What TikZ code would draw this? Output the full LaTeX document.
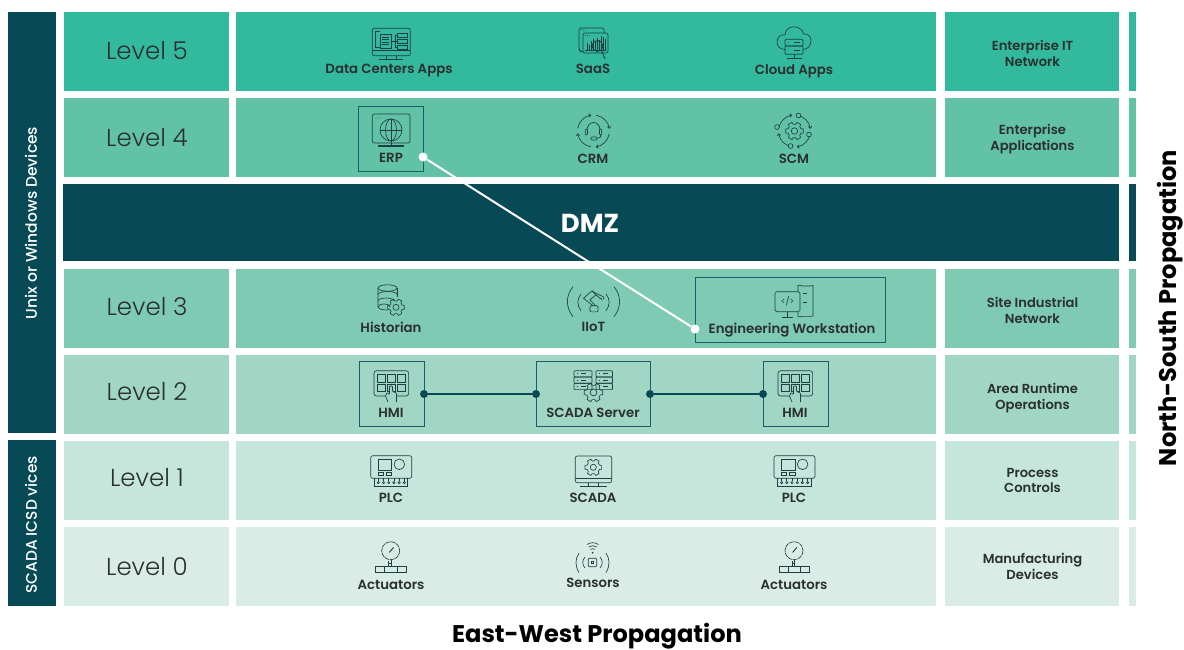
\documentclass[tikz,border=0pt]{standalone}
\usepackage{fontspec}
\setmainfont{Poppins}
\newfontfamily\semib{Poppins SemiBold}
\newfontfamily\medf{Poppins Medium}
\newfontfamily\lightf{Poppins Light}
\usetikzlibrary{arrows.meta}
\definecolor{cfive}{HTML}{33B99D}
\definecolor{cfour}{HTML}{62C2A6}
\definecolor{cthree}{HTML}{7FCAB3}
\definecolor{ctwo}{HTML}{A1D6C4}
\definecolor{cone}{HTML}{C6E6DB}
\definecolor{czero}{HTML}{D9ECE5}
\definecolor{cdark}{HTML}{074954}
\definecolor{ctxt}{HTML}{2A2F30}
\definecolor{cicon}{HTML}{1E3F44}
\definecolor{cbox}{HTML}{1B5E6A}
\tikzset{
  bandbox/.style={inner sep=0pt,outer sep=0pt,anchor=north west},
  lvl/.style={text=ctxt,anchor=base,inner sep=0pt,font=\lightf\fontsize{24.5}{26}\selectfont},
  lab/.style={text=ctxt,anchor=base,inner sep=0pt,font=\semib\fontsize{13.3}{15}\selectfont},
  side/.style={text=ctxt,align=center,inner sep=0pt,font=\semib\fontsize{13.1}{15.4}\selectfont},
  framebox/.style={draw=cbox,line width=1pt,inner sep=0pt,outer sep=0pt,anchor=north west},
  wdot/.style={circle,fill=white,inner sep=0pt,minimum size=9pt},
  ddot/.style={circle,fill=cdark,inner sep=0pt,minimum size=8pt},
  ic/.style={draw=cicon,line width=.65pt},
  icf/.style={draw=cicon,line width=.65pt,rounded corners=1pt},
}
\newcommand{\bandrect}[6]{\node[bandbox,fill=#6,minimum width={(#4-#2)*1pt},minimum height={(#5-#3)*1pt}] (#1) at (#2,#3) {};}
\newcommand{\framerect}[5]{\node[framebox,minimum width={(#4-#2)*1pt},minimum height={(#5-#3)*1pt}] (#1) at (#2,#3) {};}
\newcommand{\gearic}[3]{%
  \begin{scope}[shift={(#1,#2)}]
  \foreach \a in {0,60,...,300}{\draw[ic,line join=round] ({\a-13}:{#3}) -- ({\a+13}:{#3}) -- ({\a+20}:{0.76*#3}) -- ({\a+40}:{0.76*#3}) -- ({\a+47}:{#3});}
  \draw[ic] (0,0) circle ({0.36*#3});
  \end{scope}}
\newcommand{\ringic}[3]{%
  \begin{scope}[shift={(#1,#2)}]
  \foreach \a in {10,100,190,280}{\draw[ic,-{Straight Barb[length=2pt,width=3.5pt]}] ({\a}:{#3}) arc ({\a}:{\a+72}:{#3});}
  \end{scope}}
\newcommand{\plcic}[1]{%
  \begin{scope}[shift={(#1,0)}]
  \draw[icf,rounded corners=2pt] (370.7,455.7) rectangle (411.7,478.3);
  \draw[ic] (378,459) rectangle (391.7,470);
  \draw[ic] (399.3,464.3) circle (5.3);
  \draw[ic] (378,472.3) rectangle (383.3,475.3);
  \draw[ic] (386,472.3) rectangle (391.7,475.3);
  \draw[ic] (374,478.3) -- (374,486.7) -- (407.7,486.7) -- (407.7,478.3);
  \foreach \k in {0,...,5}{\draw[ic] ({378.3+5.2*\k},478.3) -- ({378.3+5.2*\k},481); \draw[ic] ({378.3+5.2*\k},482.6) circle (1.1);}
  \end{scope}}
\newcommand{\gaugeic}[1]{%
  \begin{scope}[shift={(#1,0)}]
  \draw[ic,dash pattern=on 4.6pt off .7pt] (390.7,550.7) circle (9);
  \draw[ic,line width=.9pt] (389.3,552.4) -- (393.6,547.4);
  \draw[ic,line width=1pt] (391.3,559.7) -- (391.3,566.7);
  \draw[ic,line width=1pt] (388.7,561) -- (388.7,566) (388.7,563.4) -- (391.3,563.4);
  \draw[ic] (375.7,566.7) rectangle (406,572.7);
  \draw[ic] (384.7,566.7) -- (384.7,572.7) (397.3,566.7) -- (397.3,572.7);
  \end{scope}}
\newcommand{\hmiic}[1]{%
  \begin{scope}[shift={(#1,0)}]
  \draw[icf,rounded corners=2.5pt] (386,396) -- (374,396) -- (374,370.7) -- (408.6,370.7) -- (408.6,396) -- (397,396);
  \foreach \xa in {377,387,397.5}{\draw[ic] (\xa,374.7) rectangle ++(8.3,7.3); \draw[ic] (\xa,384.3) rectangle ++(8.3,7.4);}
  \draw[ic,fill=ctwo,rounded corners=.8pt] (388,402) -- (385.5,396) -- (387,392.5) -- (389.5,394.5) -- (389.5,386) -- (392.5,386) -- (392.5,391.5) -- (396.5,393) -- (396.5,402);
  \end{scope}}
\newcommand{\stackic}[2]{%
  \foreach \yb in {370.7,377,383.3}{\draw[icf,rounded corners=.8pt] (#1,\yb) rectangle (#2,\yb+6.3); \draw[ic] ({#1+2.5},\yb+3.1) -- ({#1+3.5},\yb+3.1) ({#1+7},\yb+3.1) -- ({#1+12},\yb+3.1);}}
\begin{document}
\begin{tikzpicture}[x=1pt,y=-1pt]
\useasboundingbox (0,0) rectangle (1184,649);
\fill[white] (0,0) rectangle (1184,649);
% left bars
\bandrect{barA}{8}{12}{56}{433}{cdark}
\bandrect{barB}{8}{440}{56}{606}{cdark}
% bands
\bandrect{lFive}{64}{12}{229}{91}{cfive}
\bandrect{mFive}{236}{12}{936}{91}{cfive}
\bandrect{rFive}{945}{12}{1119}{91}{cfive}
\bandrect{sFive}{1129}{12}{1136}{91}{cfive}
\bandrect{lFour}{64}{98}{229}{177}{cfour}
\bandrect{mFour}{236}{98}{936}{177}{cfour}
\bandrect{rFour}{945}{98}{1119}{177}{cfour}
\bandrect{sFour}{1129}{98}{1136}{177}{cfour}
\bandrect{dmzBand}{63}{184}{1119}{261}{cdark}
\bandrect{sDmz}{1129}{184}{1136}{261}{cdark}
\bandrect{lThree}{64}{269}{229}{348}{cthree}
\bandrect{mThree}{236}{269}{936}{348}{cthree}
\bandrect{rThree}{945}{269}{1119}{348}{cthree}
\bandrect{sThree}{1129}{269}{1136}{348}{cthree}
\bandrect{lTwo}{64}{355}{229}{434}{ctwo}
\bandrect{mTwo}{236}{355}{936}{434}{ctwo}
\bandrect{rTwo}{945}{355}{1119}{434}{ctwo}
\bandrect{sTwo}{1129}{355}{1136}{434}{ctwo}
\bandrect{lOne}{64}{441}{229}{520}{cone}
\bandrect{mOne}{236}{441}{936}{520}{cone}
\bandrect{rOne}{945}{441}{1119}{520}{cone}
\bandrect{sOne}{1129}{441}{1136}{520}{cone}
\bandrect{lZero}{64}{527}{229}{606}{czero}
\bandrect{mZero}{236}{527}{936}{606}{czero}
\bandrect{rZero}{945}{527}{1119}{606}{czero}
\bandrect{sZero}{1129}{527}{1136}{606}{czero}
% frames
\framerect{erpBox}{358.5}{106}{423}{171}
\framerect{ewBox}{695}{277.5}{885}{342}
\framerect{hmiA}{359.5}{361.5}{424}{426}
\framerect{scBox}{536}{361.5}{650}{426}
\framerect{hmiB}{763}{361.5}{828}{426}
% level text
\node[lvl] (tFive) at (147,59) {Level 5};
\node[lvl] (tFour) at (147,146.5) {Level 4};
\node[lvl] (tThree) at (147,315.5) {Level 3};
\node[lvl] (tTwo) at (147,400.5) {Level 2};
\node[lvl] (tOne) at (147,486.5) {Level 1};
\node[lvl] (tZero) at (147,575) {Level 0};
% labels
\node[lab] (a1) at (389,73.5) {Data Centers Apps};
\node[lab] (a2) at (593,73.5) {SaaS};
\node[lab] (a3) at (794,74.5) {Cloud Apps};
\node[lab] (b1) at (391,162) {ERP};
\node[lab] (b2) at (593,163) {CRM};
\node[lab] (b3) at (794,163) {SCM};
\node[lab] (c1) at (391,332.5) {Historian};
\node[lab] (c2) at (593.5,331.5) {IIoT};
\node[lab] (c3) at (792,333) {Engineering Workstation};
\node[lab] (d1) at (391,417) {HMI};
\node[lab] (d2) at (593,417) {SCADA Server};
\node[lab] (d3) at (795,417) {HMI};
\node[lab] (e1) at (391,502) {PLC};
\node[lab] (e2) at (593,502) {SCADA};
\node[lab] (e3) at (794,502) {PLC};
\node[lab] (f1) at (391,589) {Actuators};
\node[lab] (f2) at (593,587) {Sensors};
\node[lab] (f3) at (794,589) {Actuators};
% side labels
\node[side] (s5) at (1032.5,53.5) {Enterprise IT\\Network};
\node[side] (s4) at (1032.5,139) {Enterprise\\Applications};
\node[side] (s3) at (1032.5,310.5) {Site Industrial\\Network};
\node[side] (s2) at (1032.5,398) {Area Runtime\\Operations};
\node[side] (s1) at (1032.5,480.5) {Process\\Controls};
\node[side] (s0) at (1032.5,566.5) {Manufacturing\\Devices};
% headings
\node[text=white,inner sep=0pt,font=\bfseries\fontsize{26}{28}\selectfont] (dmzT) at (590,223) {DMZ};
\node[text=white,inner sep=0pt,rotate=90,font=\medf\fontsize{15.5}{17}\selectfont] (unixT) at (31,223) {Unix or Windows Devices};
\node[text=white,inner sep=0pt,rotate=90,font=\medf\fontsize{15.4}{17}\selectfont] (scadaT) at (31,525) {SCADA ICSD vices};
\node[text=black,inner sep=0pt,rotate=90,font=\bfseries\fontsize{24.1}{26}\selectfont] (nsT) at (1170,308) {North-South Propagation};
\node[text=black,inner sep=0pt,font=\bfseries\fontsize{24.1}{26}\selectfont] (ewT) at (597,636.5) {East-West Propagation};
% Data centers icon
\draw[icf,rounded corners=2pt] (372.3,28.3) rectangle (410.3,55.7);
\draw[ic] (372.3,50.7) -- (410.3,50.7);
\draw[ic] (386,55.7) -- (386,59.5) (396,55.7) -- (396,59.5);
\draw[ic,line width=.9pt] (379,59.7) -- (403,59.7);
\draw[ic] (380,31) -- (375,31) -- (375,47) -- (380,47);
\draw[ic] (380,34) rectangle (391,48);
\draw[ic] (382,37) -- (389,37) (382,39.5) -- (389,39.5) (382,42) -- (389,42) (382,44.5) -- (389,44.5);
\draw[ic] (397,33) rectangle (407,37) (397,39) rectangle (407,43) (397,45) rectangle (407,49);
\draw[ic] (391,41) -- (397,41) (395,35) -- (395,47) (395,35) -- (397,35) (395,47) -- (397,47);
% SaaS icon
\draw[icf,rounded corners=2pt] (583,52) -- (581,52) -- (579,50) -- (579,28) -- (604,28) -- (604,33);
\draw[icf,rounded corners=2pt] (583,33) rectangle (608,53);
\foreach \q in {581.5,583.5,585.5}{\fill[cicon] (\q,30) circle (.45);}
\foreach \q in {585.5,587.5,589.5}{\fill[cicon] (\q,35.5) circle (.45);}
\foreach \q/\h in {587/43,589/45,591/41,593/39,595/42,597/38,599/40,601/36,603/37,605/39}{\draw[ic] (\q,50) -- (\q,\h);}
\draw[ic] (585,50) -- (606,50);
\draw[ic,line width=.9pt] (597.5,46) circle (5.5);
\draw[ic,line width=.9pt] (601.5,50.5) -- (605,59);
% Cloud icon
\draw[icf,rounded corners=0pt] (785,49.5) .. controls (779,49.5) and (777,45) .. (777,42) .. controls (777,37) and (781,34) .. (785,35) .. controls (785,29) and (790,26.8) .. (794,26.8) .. controls (799,26.8) and (803,30) .. (803.5,34) .. controls (808,33) and (811,37) .. (811,41) .. controls (811,45) and (808,49.5) .. (803,49.5);
\draw[icf] (785,39.3) rectangle (803,46);
\draw[icf] (785,46) rectangle (803,54.3);
\fill[cicon] (788,42.6) circle (.5) (788,50) circle (.5);
\draw[ic] (794,42.6) -- (800,42.6) (794,50) -- (800,50);
\draw[ic] (794,54.3) -- (794,58.3) (787,58.3) -- (802,58.3);
% ERP icon
\draw[icf,rounded corners=2pt] (372.3,114) rectangle (410,143);
\foreach \q in {376,378.5,381}{\fill[cicon!70] (\q,118) circle (.6);}
\draw[ic] (391,130) circle (11);
\draw[ic] (391,130) ellipse (5.5 and 11);
\draw[ic] (380,130) -- (402,130) (391,119) -- (391,146);
\draw[ic,line width=1.1pt] (378,146) -- (404,146);
% CRM icon
\ringic{593.5}{131}{16}
\draw[ic] (587,130) arc (180:360:6.5 and 7.5);
\draw[icf] (585.2,129) rectangle (587.5,135);
\draw[icf] (599.5,129) rectangle (601.8,135);
\draw[ic] (600.5,135) -- (600.5,137) -- (597,138.5);
\draw[icf] (591,137) rectangle (597,140);
% SCM icon
\ringic{794.5}{131}{16}
\gearic{794.5}{131}{9}
\foreach \px/\py in {798.5/115.5,777/127,809/134.5,790.5/146}{\draw[ic,fill=cfour] (\px,\py) circle (2.4);}
% Historian icon
\draw[ic] (387.5,288) ellipse (9.5 and 3.2);
\draw[ic] (378,288) -- (378,307) arc (180:90:9.5 and 3);
\draw[ic] (397,288) -- (397,297);
\draw[ic] (378,294.5) arc (180:360:9.5 and 3);
\draw[ic] (378,301) arc (180:360:8 and 3);
\draw[ic] (378,307) arc (180:360:6 and 3);
\gearic{396}{307.3}{8.5}
% IIoT icon
\draw[ic] (573,286.7) .. controls (565.5,296) and (565.5,307) .. (573,316.7);
\draw[ic] (614,286.7) .. controls (621.5,296) and (621.5,307) .. (614,316.7);
\draw[ic] (581,294) .. controls (576.8,299) and (576.8,305) .. (581,310.7);
\draw[ic] (606,294) .. controls (610.2,299) and (610.2,305) .. (606,310.7);
\begin{scope}[shift={(0,-2.7)}]
\draw[icf] (590,314.6) -- (598,314.6) -- (598,308.5) -- (590,308.5) -- cycle;
\draw[ic] (593,308.5) -- (583.5,301) -- (592,293.5) -- (596,297.5) -- (590,302.5) -- (595.5,308.5);
\draw[ic] (592,293.5) -- (594,295) -- (600,298) (596,297.5) -- (600,301);
\draw[ic] (600,298) .. controls (603,298) and (604,300) .. (604,302) (600,301) .. controls (601.5,301) and (602,302) .. (602,303);
\end{scope}
% Engineering icon
\draw[ic] (798,291.7) -- (798,285.5) .. controls (799,284.8) and (800,285.3) .. (802,286) -- (810,286) .. controls (811,285.2) and (812,285) .. (813,285.5) -- (813,316) .. controls (812,316.9) and (811,316.9) .. (810,316.4) -- (802,316.4) .. controls (800,317.2) and (799,317) .. (798,316.4) -- (798,311.7);
\draw[icf,rounded corners=1.5pt,fill=cthree] (775,291.7) rectangle (800,311.7);
\draw[ic] (787.5,311.7) -- (787.5,317) (782,317) -- (793,317);
\node[inner sep=0pt,text=cicon,font=\fontsize{8.5}{9}\selectfont] (codeT) at (787.5,301.7) {</>};
\draw[ic] (803,293.3) -- (807,293.3) (803,302.7) -- (807,302.7);
% HMI icons
\hmiic{0}
\hmiic{404}
% SCADA server icon
\stackic{574}{592}
\stackic{596}{612.5}
\gearic{593.5}{392.5}{9.5}
% PLC icons
\plcic{0}
\plcic{403.3}
% SCADA icon
\draw[icf,rounded corners=2pt] (575.3,456) rectangle (611.7,482.7);
\draw[ic] (575.3,478.3) -- (611.7,478.3);
\draw[ic] (588,482.7) -- (588,486) (598,482.7) -- (598,486) (580,486.5) -- (607,486.5);
\gearic{593.3}{467.3}{8.5}
% Actuators
\gaugeic{0}
\gaugeic{403.3}
% Sensors icon
\fill[cicon] (592.7,552.7) circle (1);
\draw[ic] (592.7,552.7) ++(-125:4) arc (-125:-55:4);
\draw[ic] (592.7,552.7) ++(-125:7) arc (-125:-55:7);
\draw[ic] (592.7,552.7) ++(-125:10) arc (-125:-55:10);
\draw[icf] (588.3,558.3) rectangle (596.7,566.7);
\draw[ic] (591.7,561.7) rectangle (593.7,563.7);
\draw[ic] (585,557) .. controls (582,560.5) and (582,564.5) .. (585,568);
\draw[ic] (600,557) .. controls (603,560.5) and (603,564.5) .. (600,568);
\draw[ic] (579,553) .. controls (575,559) and (575,566) .. (579,572.5);
\draw[ic] (606,553) .. controls (610,559) and (610,566) .. (606,572.5);
% connectors
\node[wdot] (erpDot) at (423,157) {};
\node[wdot] (ewDot) at (695,329) {};
\draw[white,line width=2pt] (erpDot) -- (ewDot);
\node[ddot] (hmiADot) at (424,394) {};
\node[ddot] (scL) at (536,394) {};
\node[ddot] (scR) at (650,394) {};
\node[ddot] (hmiBDot) at (763,394) {};
\draw[cdark,line width=2pt] (hmiADot) -- (scL);
\draw[cdark,line width=2pt] (scR) -- (hmiBDot);
\end{tikzpicture}
\end{document}
